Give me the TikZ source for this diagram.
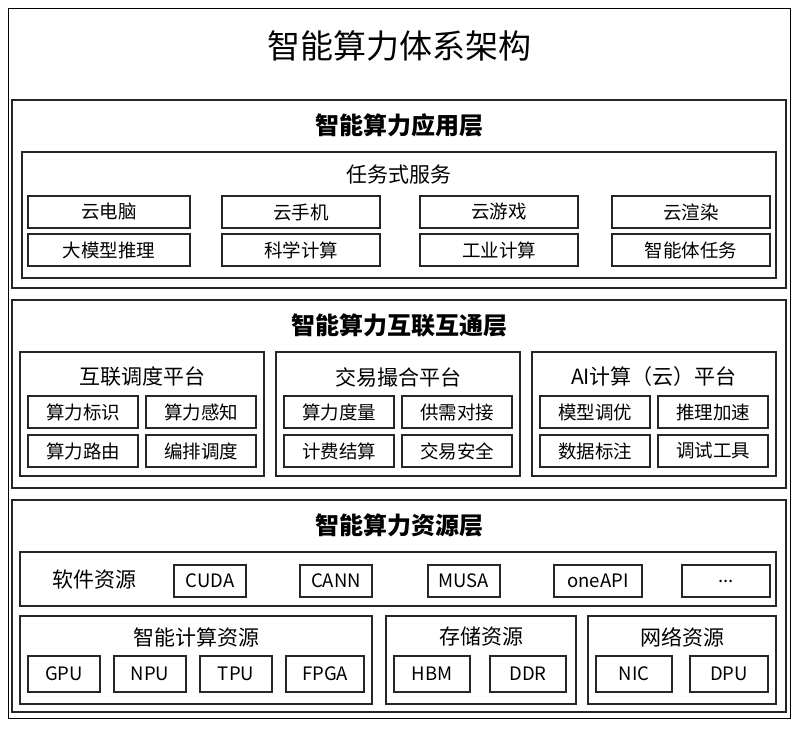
\documentclass[tikz,border=0pt]{standalone}
\usepackage{fontspec}
\setmainfont{Noto Sans CJK SC}
\tikzset{
  frame/.style={draw=black!85,line width=1.4pt,inner sep=0pt},
  cell/.style={draw=black!85,line width=1.2pt,inner sep=0pt,minimum height=32pt,font=\fontsize{18.5}{18.5}\selectfont},
  title/.style={font=\bfseries\fontsize{24}{24}\selectfont},
  subtitle/.style={font=\fontsize{21}{21}\selectfont}
}
\begin{document}
\begin{tikzpicture}[x=1pt,y=-1pt]
  \useasboundingbox (0,0) rectangle (800,728);
  \draw[line width=1pt] (8,8) rectangle (790,718);
  \node[font=\fontsize{33}{33}\selectfont] (top) at (399,46) {智能算力体系架构};

  % application layer
  \draw[frame] (12,100) rectangle (786,288);
  \node[title] (app) at (399,125) {智能算力应用层};
  \draw[frame] (22,152) rectangle (776,278);
  \node[subtitle] (task) at (399,175) {任务式服务};
  \foreach \x/\w/\a/\b [count=\i] in {109/162/云电脑/大模型推理,301/158/云手机/科学计算,499/158/云游戏/工业计算,691/158/云渲染/智能体任务} {
    \node[cell,minimum width=\w] (svcA\i) at (\x,212) {\a};
    \node[cell,minimum width=\w] (svcB\i) at (\x,250) {\b};
  }

  % interconnect layer
  \draw[frame] (12,300) rectangle (786,488);
  \node[title] (net) at (399,325) {智能算力互联互通层};
  \foreach \l/\t/\a/\b/\c/\d [count=\i] in {20/互联调度平台/算力标识/算力感知/算力路由/编排调度,276/交易撮合平台/算力度量/供需对接/计费结算/交易安全,532/AI计算（云）平台/模型调优/推理加速/数据标注/调试工具} {
    \draw[frame] (\l,352) rectangle ({\l+244},476);
    \node[subtitle] (plat\i) at ({\l+122},377) {\t};
    \node[cell,minimum width=110] (p\i a) at ({\l+63},412) {\a};
    \node[cell,minimum width=110] (p\i b) at ({\l+181},412) {\b};
    \node[cell,minimum width=110] (p\i c) at ({\l+63},451) {\c};
    \node[cell,minimum width=110] (p\i d) at ({\l+181},451) {\d};
  }

  % resource layer
  \draw[frame] (12,500) rectangle (786,712);
  \node[title] (res) at (399,525) {智能算力资源层};
  \draw[frame] (20,552) rectangle (776,606);
  \node[subtitle] (soft) at (94,580) {软件资源};
  \foreach \x/\w/\t [count=\i] in {210/72/CUDA,336/72/CANN,464/72/MUSA,598/88/oneAPI,726/88/{...}}
    \node[cell,minimum width=\w] (sw\i) at (\x,581) {\t};

  \draw[frame] (20,616) rectangle (372,704);
  \node[subtitle] (comp) at (196,637) {智能计算资源};
  \foreach \x/\w/\t [count=\i] in {64/72/GPU,150/72/NPU,236/72/TPU,325/78/FPGA}
    \node[cell,minimum width=\w,minimum height=36pt] (hw\i) at (\x,674) {\t};

  \draw[frame] (386,616) rectangle (576,704);
  \node[subtitle] (stor) at (481,637) {存储资源};
  \node[cell,minimum width=76,minimum height=36pt] (hbm) at (432,674) {HBM};
  \node[cell,minimum width=76,minimum height=36pt] (ddr) at (528,674) {DDR};

  \draw[frame] (588,616) rectangle (776,704);
  \node[subtitle] (link) at (682,637) {网络资源};
  \node[cell,minimum width=76,minimum height=36pt] (nic) at (634,674) {NIC};
  \node[cell,minimum width=78,minimum height=36pt] (dpu) at (729,674) {DPU};
\end{tikzpicture}
\end{document}
